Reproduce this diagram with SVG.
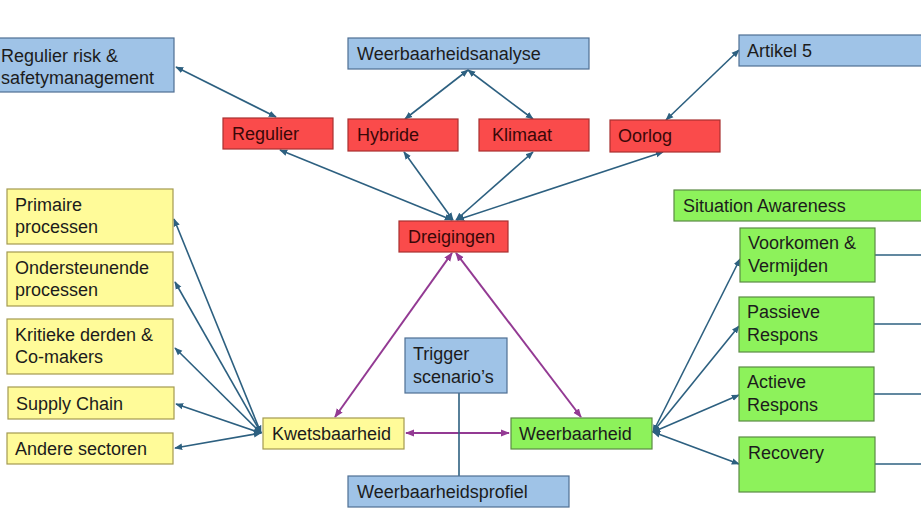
<svg xmlns="http://www.w3.org/2000/svg" width="921" height="518" viewBox="0 0 921 518">
<style>
text{font-family:"Liberation Sans",Arial,sans-serif;font-size:18px;fill:#1c1c1c}
.b{fill:#9FC3E7;stroke:#4F6F93;stroke-width:1.2}
.r{fill:#FA4B4B;stroke:#A83030;stroke-width:1.2}
.y{fill:#FFFB99;stroke:#A39A50;stroke-width:1.2}
.g{fill:#8DF25B;stroke:#5B8A45;stroke-width:1.2}
.rt{fill:#3a0808}
.c{fill:none;stroke:#2D6080;stroke-width:1.6;marker-start:url(#ah);marker-end:url(#ah)}
.ce{fill:none;stroke:#2D6080;stroke-width:1.6;marker-end:url(#ah)}
.p{fill:none;stroke:#933A93;stroke-width:2;marker-start:url(#ap);marker-end:url(#ap)}
.l{fill:none;stroke:#2D6080;stroke-width:1.6}
</style>
<defs>
<marker id="ah" viewBox="0 0 10 10" refX="9" refY="5" markerWidth="5" markerHeight="5" orient="auto-start-reverse" markerUnits="strokeWidth"><path d="M0,1 L10,5 L0,9 z" fill="#2D6080"/></marker>
<marker id="ap" viewBox="0 0 10 10" refX="9" refY="5" markerWidth="4.5" markerHeight="4.5" orient="auto-start-reverse" markerUnits="strokeWidth"><path d="M0,1 L10,5 L0,9 z" fill="#933A93"/></marker>
</defs>
<rect width="921" height="518" fill="#ffffff"/>

<g id="connectors">
<line class="c" x1="176" y1="67" x2="276" y2="117"/>
<line class="c" x1="468" y1="70" x2="405" y2="119"/>
<line class="c" x1="468" y1="70" x2="533" y2="119"/>
<line class="c" x1="739" y1="50" x2="666" y2="120"/>
<line class="c" x1="452" y1="220" x2="280" y2="150"/>
<line class="c" x1="453" y1="220" x2="404" y2="152"/>
<line class="c" x1="456" y1="220" x2="533" y2="152"/>
<line class="c" x1="457" y1="220" x2="663" y2="152"/>
<line class="p" x1="452" y1="253" x2="335" y2="417"/>
<line class="p" x1="456" y1="253" x2="581" y2="417"/>
<line class="p" x1="406" y1="433" x2="509" y2="433"/>
<line class="c" x1="261" y1="433" x2="174" y2="219"/>
<line class="c" x1="261" y1="433" x2="175" y2="282"/>
<line class="c" x1="261" y1="433" x2="175" y2="348"/>
<line class="c" x1="261" y1="433" x2="176" y2="404"/>
<line class="c" x1="261" y1="433" x2="175" y2="448"/>
<line class="c" x1="653" y1="432" x2="740" y2="259"/>
<line class="c" x1="653" y1="432" x2="739" y2="326"/>
<line class="c" x1="653" y1="432" x2="739" y2="395"/>
<line class="c" x1="653" y1="432" x2="739" y2="464"/>
<line class="l" x1="459" y1="393" x2="459" y2="476"/>
<line class="l" x1="875" y1="255" x2="921" y2="255"/>
<line class="l" x1="874" y1="324" x2="921" y2="324"/>
<line class="l" x1="874" y1="394" x2="921" y2="394"/>
<line class="l" x1="875" y1="464" x2="921" y2="464"/>
</g>

<g id="regulier-risk"><rect class="b" x="-1" y="38" width="175" height="54"/><text x="1" y="62">Regulier risk &amp;</text><text x="1" y="84">safetymanagement</text></g>
<g id="weerbaarheidsanalyse"><rect class="b" x="348" y="38" width="241" height="31"/><text x="357" y="60">Weerbaarheidsanalyse</text></g>
<g id="artikel5"><rect class="b" x="739" y="35" width="190" height="31"/><text x="747" y="57">Artikel 5</text></g>

<g id="regulier"><rect class="r" x="223" y="118" width="110" height="31"/><text class="rt" x="232" y="140">Regulier</text></g>
<g id="hybride"><rect class="r" x="348" y="119" width="110" height="32"/><text class="rt" x="357" y="141">Hybride</text></g>
<g id="klimaat"><rect class="r" x="479" y="119" width="110" height="32"/><text class="rt" x="492" y="141">Klimaat</text></g>
<g id="oorlog"><rect class="r" x="610" y="120" width="110" height="32"/><text class="rt" x="618" y="142">Oorlog</text></g>
<g id="dreigingen"><rect class="r" x="399" y="221" width="109" height="31"/><text class="rt" x="408" y="243">Dreigingen</text></g>

<g id="primaire"><rect class="y" x="7" y="189" width="166" height="55"/><text x="15" y="211">Primaire</text><text x="15" y="233">processen</text></g>
<g id="ondersteunende"><rect class="y" x="7" y="252" width="166" height="54"/><text x="15" y="274">Ondersteunende</text><text x="15" y="296">processen</text></g>
<g id="kritieke"><rect class="y" x="7" y="319" width="166" height="55"/><text x="15" y="341">Kritieke derden &amp;</text><text x="15" y="363">Co-makers</text></g>
<g id="supply"><rect class="y" x="8" y="387" width="166" height="32"/><text x="16" y="410">Supply Chain</text></g>
<g id="andere"><rect class="y" x="7" y="433" width="166" height="31"/><text x="15" y="455">Andere sectoren</text></g>

<g id="kwetsbaarheid"><rect class="y" x="263" y="418" width="141" height="31"/><text x="272" y="440">Kwetsbaarheid</text></g>
<g id="trigger"><rect class="b" x="405" y="338" width="102" height="55"/><text x="413" y="360">Trigger</text><text x="413" y="383">scenario’s</text></g>
<g id="weerbaarheid"><rect class="g" x="511" y="418" width="141" height="31"/><text x="519" y="440">Weerbaarheid</text></g>
<g id="weerbaarheidsprofiel"><rect class="b" x="348" y="476" width="221" height="31"/><text x="357" y="498">Weerbaarheidsprofiel</text></g>

<g id="situation"><rect class="g" x="674" y="190" width="260" height="31"/><text x="683" y="212">Situation Awareness</text></g>
<g id="voorkomen"><rect class="g" x="740" y="228" width="135" height="54"/><text x="748" y="249">Voorkomen &amp;</text><text x="748" y="272">Vermijden</text></g>
<g id="passieve"><rect class="g" x="739" y="297" width="135" height="55"/><text x="747" y="318">Passieve</text><text x="747" y="341">Respons</text></g>
<g id="actieve"><rect class="g" x="739" y="367" width="135" height="54"/><text x="747" y="388">Actieve</text><text x="747" y="411">Respons</text></g>
<g id="recovery"><rect class="g" x="739" y="437" width="136" height="55"/><text x="748" y="459">Recovery</text></g>
</svg>
